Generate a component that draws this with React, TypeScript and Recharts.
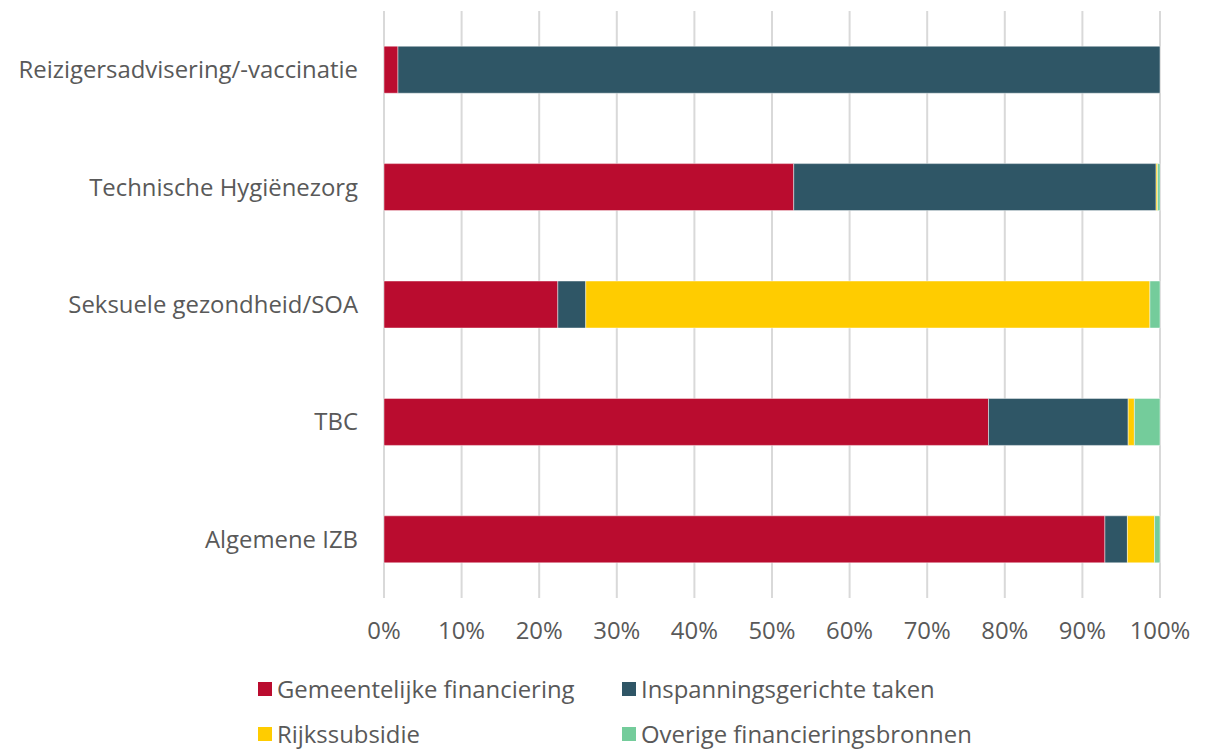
import { Bar, BarChart, CartesianGrid, XAxis, YAxis } from 'recharts';

const categories = [
  'Reizigersadvisering/-vaccinatie',
  'Technische Hygiënezorg',
  'Seksuele gezondheid/SOA',
  'TBC',
  'Algemene IZB',
];
const gemeentelijk = [1.8, 52.8, 22.4, 77.9, 92.9];
const inspanning = [98.2, 46.7, 3.6, 18.0, 2.9];
const rijks = [0, 0.2, 72.7, 0.8, 3.5];
const overige = [0, 0.3, 1.3, 3.3, 0.7];
const xTicks = [0, 10, 20, 30, 40, 50, 60, 70, 80, 90, 100];

const series = [
  { key: 'gem', name: 'Gemeentelijke financiering', color: '#BA0C2F' },
  { key: 'insp', name: 'Inspanningsgerichte taken', color: '#2F5666' },
  { key: 'rijk', name: 'Rijkssubsidie', color: '#FFCC00' },
  { key: 'ov', name: 'Overige financieringsbronnen', color: '#74CC9B' },
];

const data = categories.map((c, i) => ({
  cat: c,
  gem: gemeentelijk[i],
  insp: inspanning[i],
  rijk: rijks[i],
  ov: overige[i],
}));

const FONT = '"Open Sans", "Noto Sans", sans-serif';
const TEXT = '#595959';
const FS = 23.9;

function Legend() {
  const pos = [
    { left: 258, top: 689 },
    { left: 622, top: 689 },
    { left: 258, top: 734 },
    { left: 622, top: 734 },
  ];
  return (
    <>
      {series.map((s, i) => (
        <div
          key={s.key}
          style={{
            position: 'absolute',
            left: pos[i].left,
            top: pos[i].top - 14,
            height: 28,
            lineHeight: '28px',
            display: 'flex',
            alignItems: 'center',
            fontFamily: FONT,
            fontSize: FS,
            color: TEXT,
            whiteSpace: 'nowrap',
          }}
        >
          <span style={{ width: 14, height: 14, background: s.color, marginRight: 5, display: 'inline-block' }} />
          {s.name}
        </div>
      ))}
    </>
  );
}

export default function App() {
  return (
    <div style={{ position: 'absolute', left: 0, top: 0, width: 1215, height: 750, background: '#fff', overflow: 'hidden' }}>
      <BarChart
        width={1215}
        height={660}
        data={data}
        layout="vertical"
        margin={{ top: 11, right: 55, left: 0, bottom: 0 }}
        barCategoryGap="30%"
      >
        <CartesianGrid vertical horizontal={false} stroke="#d9d9d9" strokeWidth={2} />
        <XAxis
          type="number"
          domain={[0, 100]}
          ticks={xTicks}
          tickFormatter={(v) => `${v}%`}
          axisLine={false}
          tickLine={false}
          tickMargin={18}
          height={62}
          tick={{ fill: TEXT, fontSize: FS, fontFamily: FONT }}
        />
        <YAxis
          type="category"
          dataKey="cat"
          width={384}
          axisLine={false}
          tickLine={false}
          tickMargin={20}
          tick={{ fill: TEXT, fontSize: FS, fontFamily: FONT }}
        />
        {series.map((s) => (
          <Bar
            key={s.key}
            dataKey={s.key}
            name={s.name}
            stackId="a"
            fill={s.color}
            stroke="#ffffff"
            strokeOpacity={0.6}
            strokeWidth={0.75}
            isAnimationActive={false}
          />
        ))}
      </BarChart>
      <Legend />
    </div>
  );
}
